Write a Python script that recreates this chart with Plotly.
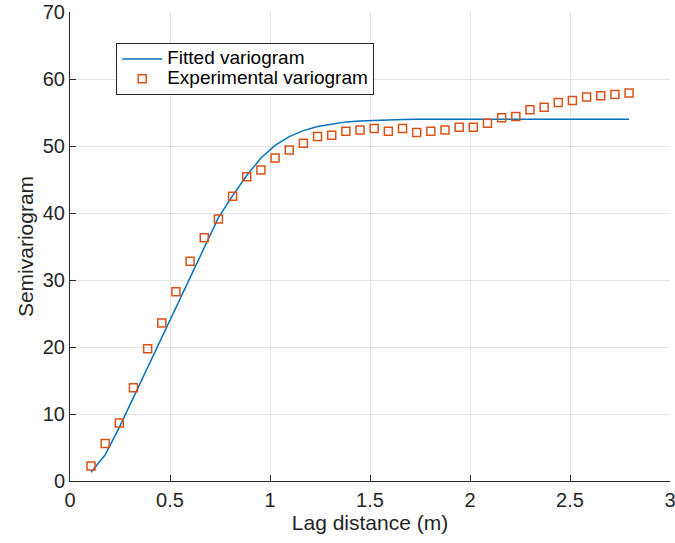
import plotly.graph_objects as go

# Lag distances (m)
lag = [0.105 + 0.0708 * i for i in range(39)]

experimental = [2.24, 5.6, 8.66, 13.9, 19.75, 23.6, 28.25, 32.8, 36.3, 39.1,
                42.5, 45.4, 46.4, 48.2, 49.4, 50.4, 51.4, 51.6, 52.2, 52.4,
                52.6, 52.2, 52.6, 52.0, 52.2, 52.4, 52.8, 52.8, 53.4, 54.2,
                54.4, 55.4, 55.8, 56.5, 56.8, 57.3, 57.5, 57.7, 57.9]

fitted = [1.3, 3.9, 8.0, 12.5, 16.9, 21.4, 25.9, 30.5, 35.0, 39.3,
          42.6, 45.6, 48.2, 50.1, 51.4, 52.3, 52.9, 53.3, 53.6, 53.75,
          53.85, 53.9, 53.95, 54.0, 54.0, 54.0, 54.0, 54.0, 54.0, 54.0,
          54.0, 54.0, 54.0, 54.0, 54.0, 54.0, 54.0, 54.0, 54.0]

series_names = ["Fitted variogram", "Experimental variogram"]

font = "Liberation Sans, Arial, Helvetica, sans-serif"

def legend_label(s):
    return "<span style='font-size:19px'>" + s + "</span>"

fig = go.Figure()
fig.add_trace(go.Scatter(x=lag, y=fitted, mode="lines", name=legend_label(series_names[0]),
                         line=dict(color="#0072BD", width=1.5)))
fig.add_trace(go.Scatter(x=lag, y=experimental, mode="markers", name=legend_label(series_names[1]),
                         marker=dict(symbol="square-open", color="#D95319", size=8,
                                     line=dict(width=1.5, color="#D95319"))))

axis_common = dict(showgrid=True, gridcolor="#e3e3e3", gridwidth=1,
                   showline=True, linecolor="#262626", linewidth=1,
                   ticks="inside", ticklen=6, tickcolor="#262626",
                   tickfont=dict(family=font, size=20, color="#262626"),
                   zeroline=False, mirror=False, automargin=False,
                   ticklabeloverflow="allow")

fig.update_xaxes(range=[0, 3], dtick=0.5, tick0=0, ticklabelstandoff=1,
                 title=dict(text="Lag distance (m)", font=dict(family=font, size=21, color="#262626"), standoff=4),
                 **axis_common)
fig.update_yaxes(range=[0, 70], dtick=10, tick0=0,
                 title=dict(text="Semivariogram", font=dict(family=font, size=21, color="#262626"), standoff=3),
                 **axis_common)

fig.update_layout(
    width=675, height=543,
    margin=dict(l=70, r=5, t=12, b=62),
    paper_bgcolor="white", plot_bgcolor="white",
    font=dict(family=font, color="#262626"),
    legend=dict(x=0.077, y=0.934, xanchor="left", yanchor="top",
                bgcolor="white", bordercolor="#262626", borderwidth=1,
                font=dict(family=font, size=13, color="#000000"),
                tracegroupgap=0, itemwidth=40),
)

fig.write_html("out.html", config={"displayModeBar": False},
               post_script="document.body.style.margin='0';")
